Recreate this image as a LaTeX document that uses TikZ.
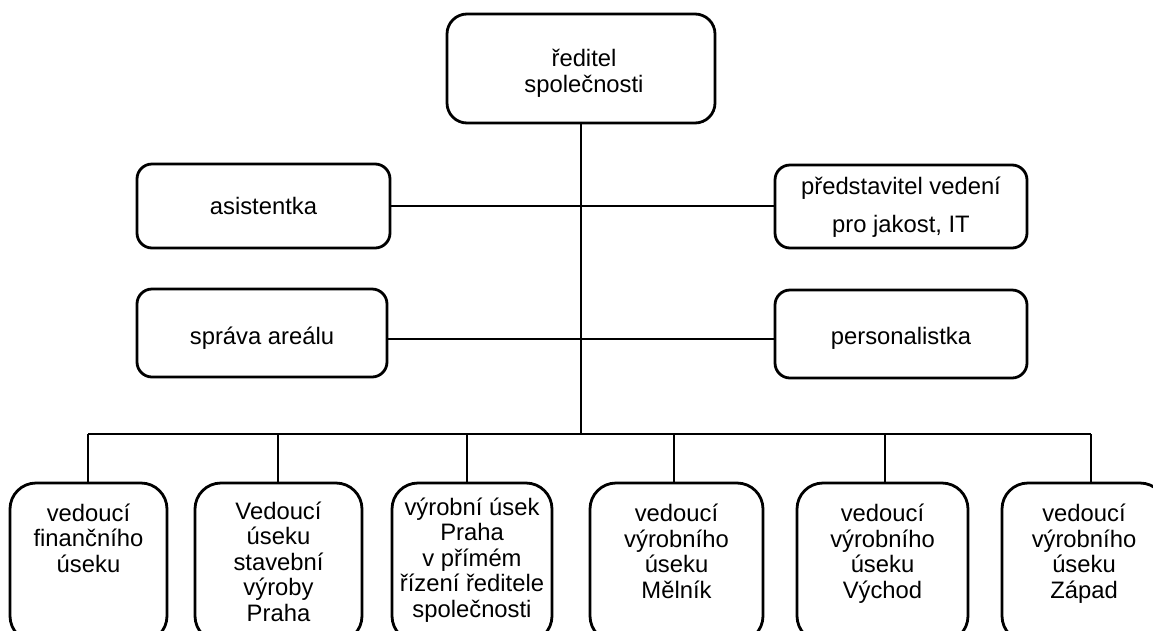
\documentclass[tikz,border=0pt]{standalone}
\usepackage{fontspec}
\setmainfont{Liberation Sans}
\begin{document}
\begin{tikzpicture}[x=1pt,y=-1pt,
  box/.style={draw=black, line width=2.8pt, rounded corners=#1, inner sep=0pt, fill=white},
  box/.default=15pt,
  lbl/.style={inner sep=0pt, align=center, font=\fontsize{23.8}{25.5}\selectfont},
  link/.style={draw=black, line width=1.8pt}]
\useasboundingbox (0,0) rectangle (1153,630);
\clip (0,0) rectangle (1153,630);
\fill[white] (0,0) rectangle (1153,630);

% top
\node[box=20pt, minimum width=268pt, minimum height=109pt] (top) at (581,68.5) {};
\node[lbl, anchor=base] (ttop) at (584,92) {ředitel\\společnosti};

% side boxes
\node[box, minimum width=253pt, minimum height=84pt] (asist) at (263.5,206) {};
\node[lbl] (tasist) at (263.5,206) {asistentka};
\node[box, minimum width=252pt, minimum height=83pt] (predst) at (901,206.5) {};
\node[lbl, anchor=base] (tpredst) at (901,232) {představitel vedení\\[12pt]pro jakost, IT};
\node[box, minimum width=250pt, minimum height=88pt] (sprava) at (262,333) {};
\node[lbl, anchor=base] (tsprava) at (262,344) {správa areálu};
\node[box, minimum width=252pt, minimum height=88pt] (person) at (901,334) {};
\node[lbl, anchor=base] (tperson) at (901,344) {personalistka};

% bottom boxes
\node[box=26pt, minimum width=157pt, minimum height=159pt] (b1) at (88.5,562.5) {};
\node[box=26pt, minimum width=167pt, minimum height=159pt] (b2) at (278.5,562.5) {};
\node[box=26pt, minimum width=160pt, minimum height=159pt] (b3) at (472,562.5) {};
\node[box=26pt, minimum width=173pt, minimum height=159pt] (b4) at (676.5,562.5) {};
\node[box=26pt, minimum width=171pt, minimum height=159pt] (b5) at (882.5,562.5) {};
\node[box=26pt, minimum width=164pt, minimum height=159pt] (b6) at (1084,562.5) {};

\node[lbl, anchor=base] (t1) at (88.5,572) {vedoucí\\finančního\\úseku};
\node[lbl, anchor=base] (t2) at (278.5,621) {Vedoucí\\úseku\\stavební\\výroby\\Praha};
\node[lbl, anchor=base] (t3) at (472,617) {výrobní úsek\\Praha\\v přímém\\řízení ředitele\\společnosti};
\node[lbl, anchor=base] (t4) at (676.5,598) {vedoucí\\výrobního\\úseku\\Mělník};
\node[lbl, anchor=base] (t5) at (882.5,598) {vedoucí\\výrobního\\úseku\\Východ};
\node[lbl, anchor=base] (t6) at (1084,598) {vedoucí\\výrobního\\úseku\\Západ};

% connectors
\coordinate (busL) at (88,434);
\coordinate (busR) at (1091,434);
\draw[link] (top.south) -- (top.south |- busL);
\draw[link] (busL) -- (busR);
\draw[link] (asist.east) -- (asist.east -| predst.west);
\draw[link] ([yshift=-6pt]sprava.east) -- ([yshift=-6pt]sprava.east -| person.west);
\draw[link] ([xshift=-0.5pt]b1.north) -- ([xshift=-0.5pt]b1.north |- busL);
\draw[link] ([xshift=-0.5pt]b2.north) -- ([xshift=-0.5pt]b2.north |- busL);
\draw[link] ([xshift=-5pt]b3.north) -- ([xshift=-5pt]b3.north |- busL);
\draw[link] ([xshift=-2.5pt]b4.north) -- ([xshift=-2.5pt]b4.north |- busL);
\draw[link] ([xshift=2.5pt]b5.north) -- ([xshift=2.5pt]b5.north |- busL);
\draw[link] ([xshift=7pt]b6.north) -- ([xshift=7pt]b6.north |- busL);
\end{tikzpicture}
\end{document}
